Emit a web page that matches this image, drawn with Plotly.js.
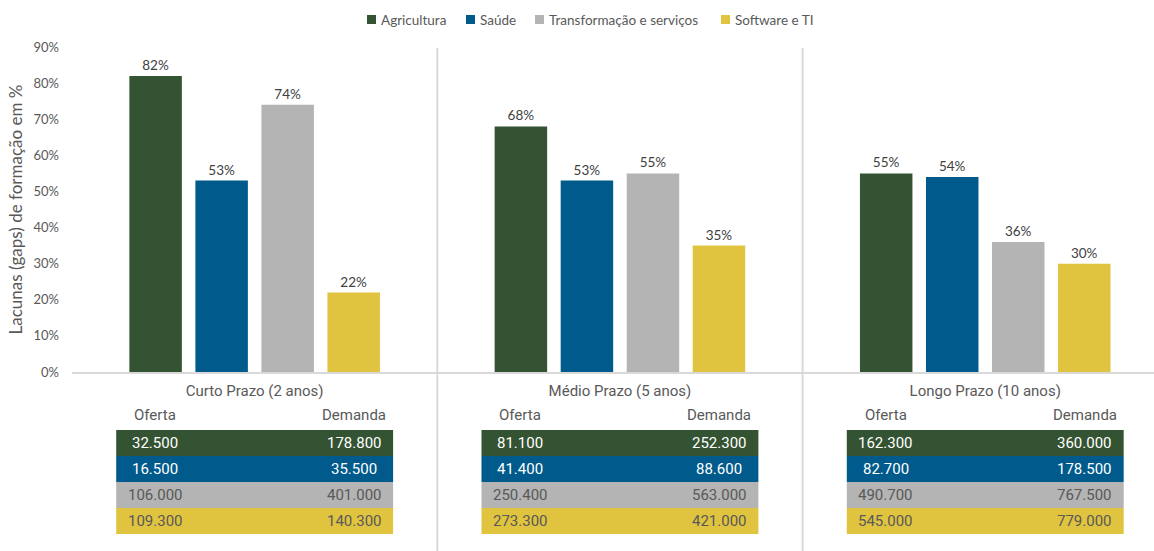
<!DOCTYPE html>
<html>
<head>
<meta charset="utf-8">
<script src="https://cdn.plot.ly/plotly-3.0.1.min.js"></script>
<style>html,body{margin:0;padding:0;background:#fff;}#chart{width:1154px;height:551px;}</style>
</head>
<body>
<div id="chart"></div>
<script>
// ---- data ----
var categories = ['Curto Prazo (2 anos)', 'Médio Prazo (5 anos)', 'Longo Prazo (10 anos)'];
var seriesNames = ['Agricultura', 'Saúde', 'Transformação e serviços', 'Software e TI'];
var agricultura = [0.82, 0.68, 0.55];
var saude = [0.53, 0.53, 0.54];
var transformacao = [0.74, 0.55, 0.36];
var software = [0.22, 0.35, 0.30];
var yTicks = [0, 0.1, 0.2, 0.3, 0.4, 0.5, 0.6, 0.7, 0.8, 0.9];

var ofertaAgricultura = ['32.500', '81.100', '162.300'];
var demandaAgricultura = ['178.800', '252.300', '360.000'];
var ofertaSaude = ['16.500', '41.400', '82.700'];
var demandaSaude = ['35.500', '88.600', '178.500'];
var ofertaTransformacao = ['106.000', '250.400', '490.700'];
var demandaTransformacao = ['401.000', '563.000', '767.500'];
var ofertaSoftware = ['109.300', '273.300', '545.000'];
var demandaSoftware = ['140.300', '421.000', '779.000'];
var headerOferta = 'Oferta';
var headerDemanda = 'Demanda';

// ---- style ----
var colors = ['#345332', '#005a8b', '#b3b4b3', '#e0c33f'];
var tableText = ['#ffffff', '#ffffff', '#595959', '#595959'];
var gray = '#595959';
var lineGray = '#d9d9d9';
var legendFont = 'Lato, "Open Sans", sans-serif';
var tableFont = 'Roboto, "Liberation Sans", sans-serif';

var values = [agricultura, saude, transformacao, software];
var ofertas = [ofertaAgricultura, ofertaSaude, ofertaTransformacao, ofertaSoftware];
var demandas = [demandaAgricultura, demandaSaude, demandaTransformacao, demandaSoftware];

var traces = seriesNames.map(function (name, i) {
  return {
    type: 'bar',
    name: name,
    x: categories,
    y: values[i],
    marker: {color: colors[i]},
    texttemplate: '%{y:.0%}',
    textposition: 'outside',
    textfont: {family: legendFont, size: 13.5, color: '#404040'},
    cliponaxis: false,
    showlegend: false,
    hoverinfo: 'skip'
  };
});

// layout geometry
var W = 1154, H = 551, leftM = 72, topM = 47, botM = 179;
var plotH = H - topM - botM, plotW = W - leftM;
function py(p) { return (H - botM - p) / plotH; } // pixel y -> paper y
function px(p) { return (p - leftM) / plotW; }    // pixel x -> paper x

var xRange = [-0.5, 2.462];
var half = 0.379;      // half table width in category units
var colOff = 0.2725;   // column offset

var shapes = [];
var annotations = [];
// separators
[0.5, 1.5].forEach(function (xv) {
  shapes.push({type: 'line', xref: 'x', yref: 'paper', x0: xv, x1: xv, y0: py(48), y1: py(551),
    line: {color: lineGray, width: 2}, layer: 'above'});
});
// legend (swatch + label)
var legendSwatchX = [367, 466, 535, 721];
seriesNames.forEach(function (name, i) {
  var x0 = legendSwatchX[i];
  shapes.push({type: 'rect', xref: 'paper', yref: 'paper', x0: px(x0), x1: px(x0 + 9),
    y0: py(15), y1: py(24), fillcolor: colors[i], line: {width: 0}});
  annotations.push({xref: 'paper', yref: 'paper', x: px(x0 + 12), y: py(19.5), text: name, showarrow: false,
    xanchor: 'left', yanchor: 'middle', font: {family: legendFont, size: 13.5, color: gray}});
});
// tables
var rowTops = [430, 456, 482, 508, 534];
categories.forEach(function (c, g) {
  annotations.push({xref: 'x', yref: 'paper', x: g - colOff, y: py(415), text: headerOferta, showarrow: false,
    font: {family: tableFont, size: 15, color: gray}, xanchor: 'center', yanchor: 'middle'});
  annotations.push({xref: 'x', yref: 'paper', x: g + colOff, y: py(415), text: headerDemanda, showarrow: false,
    font: {family: tableFont, size: 15, color: gray}, xanchor: 'center', yanchor: 'middle'});
  for (var r = 0; r < 4; r++) {
    shapes.push({type: 'rect', xref: 'x', yref: 'paper', x0: g - half, x1: g + half,
      y0: py(rowTops[r]), y1: py(rowTops[r + 1]), fillcolor: colors[r], line: {width: 0}, layer: 'below'});
    var yc = py((rowTops[r] + rowTops[r + 1]) / 2);
    annotations.push({xref: 'x', yref: 'paper', x: g - colOff, y: yc, text: ofertas[r][g], showarrow: false,
      font: {family: tableFont, size: 15, color: tableText[r]}, xanchor: 'center', yanchor: 'middle'});
    annotations.push({xref: 'x', yref: 'paper', x: g + colOff, y: yc, text: demandas[r][g], showarrow: false,
      font: {family: tableFont, size: 15, color: tableText[r]}, xanchor: 'center', yanchor: 'middle'});
  }
});

var layout = {
  width: W, height: H,
  margin: {l: leftM, r: 0, t: topM, b: botM},
  paper_bgcolor: '#fff', plot_bgcolor: '#fff',
  barmode: 'group', bargap: 0.277, bargroupgap: 0.205,
  showlegend: false,
  xaxis: {type: 'category', range: xRange, showline: true, linecolor: lineGray, linewidth: 2,
    showgrid: false, zeroline: false, ticks: '', ticklabelstandoff: 4,
    tickfont: {family: tableFont, size: 15, color: gray}, fixedrange: true},
  yaxis: {range: [0, 0.9], tickvals: yTicks, tickformat: '.0%', showgrid: false, zeroline: false,
    showline: false, ticks: '', ticklabelstandoff: 12,
    tickfont: {family: legendFont, size: 13, color: gray},
    title: {text: 'Lacunas (gaps) de formação em %', standoff: 6, font: {family: legendFont, size: 17, color: gray}},
    fixedrange: true},
  shapes: shapes,
  annotations: annotations
};

Plotly.newPlot('chart', traces, layout, {displayModeBar: false, staticPlot: true});
</script>
</body>
</html>
